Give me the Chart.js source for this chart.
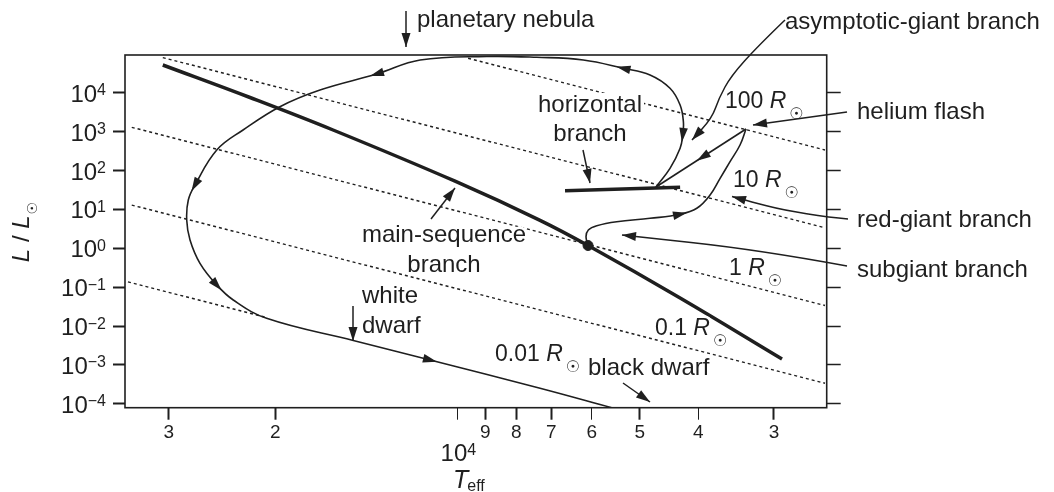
<!DOCTYPE html>
<html>
<head>
<meta charset="utf-8">
<script src="https://cdn.jsdelivr.net/npm/chart.js@4.4.1/dist/chart.umd.min.js"></script>
<style>
  html, body { margin: 0; padding: 0; background: #fff; }
  #wrap { width: 1054px; height: 492px; position: relative; }
</style>
</head>
<body>
<div id="wrap"><canvas id="hr"></canvas></div>
<script>
// axis ticks
const xTicks = [30000, 20000, 10000, 9000, 8000, 7000, 6000, 5000, 4000, 3000];
const xTickLabels = ['3', '2', '', '9', '8', '7', '6', '5', '4', '3'];
const yTicks = [1e-4, 1e-3, 1e-2, 1e-1, 1, 1e1, 1e2, 1e3, 1e4];
const yExp = [-4, -3, -2, -1, 0, 1, 2, 3, 4];

// main sequence (Teff, L/Lsun)
const msT = [30700, 22030, 16060, 10095, 7305, 6086, 4287, 2909];
const msL = [51900, 7570, 1104, 53.2, 5.25, 1.18, 0.0527, 0.00142];

// the sun
const sunT = [6086];
const sunL = [1.18];

// subgiant + red-giant branch up to the helium flash
const rgbT = [6086, 6133, 6079, 5887, 5457, 4807, 4287, 4023, 3825, 3682, 3545, 3413, 3336];
const rgbL = [1.18, 1.99, 2.96, 3.81, 4.83, 5.91, 7.50, 10.7, 23.5, 63.2, 169, 454, 1172];

// helium flash -> horizontal branch
const flashT = [3336, 4700];
const flashL = [1172, 37.7];

// horizontal branch
const hbT = [6643, 4287];
const hbL = [30.3, 37.1];

// asymptotic giant branch -> planetary nebula -> white dwarf -> black dwarf
const agbT = [4700, 4455, 4287, 4244, 4234, 4287, 4455, 4807, 5321, 6196, 7398, 8947, 11530, 13600, 16880,
  19660, 22620, 25000, 27160, 27860, 28030, 27680, 26650, 25000, 23480, 20680, 14870, 11100, 7305, 5561];
const agbL = [37.7, 114, 373, 821, 1806, 4856, 13060, 28700, 42700, 69800, 81900, 85900, 69800, 30470, 11800,
  4390, 1104, 338, 42.5, 17.5, 5.35, 1.635, 0.411, 0.1138, 0.0468, 0.0158, 0.00425, 0.00134, 2.52e-4, 7.94e-5];

// constant radius lines (end points)
const radiusNames = ['100', '10', '1', '0.1', '0.01'];
const radiusT0 = [9607, 30700, 34550, 34550, 35050];
const radiusL0 = [77400, 80500, 1295, 12.95, 0.137];
const radiusT1 = [2470, 2470, 2470, 2470, 20680];
const radiusL1 = [338, 3.38, 0.0338, 3.38e-4, 0.0166];

const ink = '#1f1f1f';
const sans = '"Liberation Sans", Arial, sans-serif';
const sym = '"DejaVu Sans", sans-serif';

function pts(tt, ll) { return tt.map((t, i) => ({ x: t, y: ll[i] })); }

const tracks = { rgb: [rgbT, rgbL], flash: [flashT, flashL], agb: [agbT, agbL] };
const trackArrows = [
  { set: 'rgb', i: 6, j: 7 },
  { set: 'flash', i: 0, j: 1, f: 0.48 },
  { set: 'agb', i: 3, j: 2 },
  { set: 'agb', i: 8, j: 9 },
  { set: 'agb', i: 13, j: 14 },
  { set: 'agb', i: 18, j: 19 },
  { set: 'agb', i: 23, j: 24 },
  { set: 'agb', i: 27, j: 28 }
];

function arrowHead(ctx, x, y, ang, len, hw) {
  const c = Math.cos(ang), s = Math.sin(ang);
  ctx.beginPath();
  ctx.moveTo(x, y);
  ctx.lineTo(x - len * c + hw * s, y - len * s - hw * c);
  ctx.lineTo(x - len * c - hw * s, y - len * s + hw * c);
  ctx.closePath();
  ctx.fill();
}

// smooth pointer line ending in an arrow head
function pointer(ctx, p) {
  ctx.beginPath();
  ctx.moveTo(p[0][0], p[0][1]);
  for (let i = 1; i < p.length - 1; i++) {
    const mx = (p[i][0] + p[i + 1][0]) / 2, my = (p[i][1] + p[i + 1][1]) / 2;
    ctx.quadraticCurveTo(p[i][0], p[i][1], mx, my);
  }
  const n = p.length;
  ctx.lineTo(p[n - 1][0], p[n - 1][1]);
  ctx.stroke();
  const ang = Math.atan2(p[n - 1][1] - p[n - 2][1], p[n - 1][0] - p[n - 2][0]);
  arrowHead(ctx, p[n - 1][0], p[n - 1][1], ang, 14, 4.5);
}

// text made of pieces: [text, font, dy, gapAfter]
function pieces(ctx, x, y, list, align, halo) {
  let w = 0;
  list.forEach(pc => { ctx.font = pc[1]; w += ctx.measureText(pc[0]).width + (pc[3] || 0); });
  let sx = align === 'center' ? x - w / 2 : align === 'right' ? x - w : x;
  ctx.textAlign = 'left';
  ctx.textBaseline = 'alphabetic';
  [halo ? 'stroke' : null, 'fill'].forEach(mode => {
    if (!mode) return;
    let cx = sx;
    list.forEach(pc => {
      ctx.font = pc[1];
      if (mode === 'stroke') {
        ctx.strokeStyle = '#fff'; ctx.lineWidth = 5; ctx.lineJoin = 'round';
        ctx.strokeText(pc[0], cx, y + (pc[2] || 0));
      } else {
        ctx.fillText(pc[0], cx, y + (pc[2] || 0));
      }
      cx += ctx.measureText(pc[0]).width + (pc[3] || 0);
    });
  });
}

function word(ctx, t, x, y, align, halo) {
  pieces(ctx, x, y, [[t, '24px ' + sans]], align, halo);
}

function rLabel(ctx, num, x, y) {
  pieces(ctx, x, y, [[num + ' ', '23px ' + sans], ['R', 'italic 23px ' + sans, 0, 3], ['\u2609', '16px ' + sym, 11]], 'left', true);
}

const hrPlugin = {
  id: 'hrPlugin',
  beforeDatasetsDraw(chart) {
    const { ctx, chartArea: a } = chart;
    ctx.save();
    ctx.strokeStyle = ink;
    ctx.lineWidth = 1.6;
    ctx.strokeRect(a.left, a.top, a.right - a.left, a.bottom - a.top);
    ctx.restore();
  },
  afterDatasetsDraw(chart) {
    const ctx = chart.ctx, xs = chart.scales.x, ys = chart.scales.y;
    ctx.save();
    ctx.fillStyle = ink;
    trackArrows.forEach(m => {
      const tt = tracks[m.set][0], ll = tracks[m.set][1];
      const P = k => [xs.getPixelForValue(tt[k]), ys.getPixelForValue(ll[k])];
      let c, ang;
      if (m.f !== undefined) {
        const p0 = P(m.i), p1 = P(m.j);
        c = [p0[0] + (p1[0] - p0[0]) * m.f, p0[1] + (p1[1] - p0[1]) * m.f];
        ang = Math.atan2(p1[1] - p0[1], p1[0] - p0[0]);
      } else {
        c = P(m.i);
        const k = 2 * m.i - m.j;
        const pb = (k >= 0 && k < tt.length) ? P(k) : c;
        const pf = P(m.j);
        ang = Math.atan2(pf[1] - pb[1], pf[0] - pb[0]);
      }
      arrowHead(ctx, c[0] + 7 * Math.cos(ang), c[1] + 7 * Math.sin(ang), ang, 14, 4.3);
    });
    ctx.restore();
  },
  afterDraw(chart) {
    const ctx = chart.ctx, xs = chart.scales.x, ys = chart.scales.y;
    ctx.save();
    ctx.fillStyle = ink;

    // y tick labels 10^n
    yTicks.forEach((v, i) => {
      const y = ys.getPixelForValue(v);
      const e = yExp[i] < 0 ? '\u2212' + (-yExp[i]) : String(yExp[i]);
      pieces(ctx, 106, y + 9, [['10', '24px ' + sans], [e, '16px ' + sans, -6.5]], 'right', false);
    });

    // x tick labels
    ctx.font = '19px ' + sans;
    ctx.textAlign = 'center';
    xTicks.forEach((v, i) => {
      if (!xTickLabels[i]) return;
      ctx.fillText(xTickLabels[i], xs.getPixelForValue(v), 438);
    });
    const x4 = xs.getPixelForValue(10000);
    pieces(ctx, x4 - 17, 461, [['10', '24px ' + sans], ['4', '16px ' + sans, -6.5]], 'left', false);
    pieces(ctx, 453, 488, [['T', 'italic 25px ' + sans, 0, -1], ['eff', '16px ' + sans, 3]], 'left', false);

    // y axis title
    ctx.save();
    ctx.translate(28.5, 232);
    ctx.rotate(-Math.PI / 2);
    ctx.fillStyle = ink;
    pieces(ctx, 0, 0, [['L', 'italic 24px ' + sans], [' / ', '24px ' + sans], ['L', 'italic 24px ' + sans, 0, 1], ['\u2609', '14px ' + sym, 8]], 'center', false);
    ctx.restore();

    // knocked-out box behind "horizontal"
    ctx.fillStyle = '#fff';
    ctx.fillRect(535, 93, 109, 22);
    ctx.fillStyle = ink;

    word(ctx, 'planetary nebula', 417, 27, 'left', false);
    word(ctx, 'asymptotic-giant branch', 785, 29, 'left', false);
    word(ctx, 'horizontal', 590, 112, 'center', false);
    word(ctx, 'branch', 590, 141, 'center', true);
    word(ctx, 'helium flash', 857, 119, 'left', false);
    word(ctx, 'red-giant branch', 857, 227, 'left', false);
    word(ctx, 'subgiant branch', 857, 277, 'left', false);
    word(ctx, 'main-sequence', 444, 242, 'center', true);
    word(ctx, 'branch', 444, 272, 'center', true);
    word(ctx, 'white', 362, 303, 'left', true);
    word(ctx, 'dwarf', 362, 333, 'left', true);
    word(ctx, 'black dwarf', 588, 375, 'left', true);

    rLabel(ctx, '100', 725, 108);
    rLabel(ctx, '10', 733, 187);
    rLabel(ctx, '1', 729, 275);
    rLabel(ctx, '0.1', 655, 335);
    rLabel(ctx, '0.01', 495, 361);

    // pointers
    ctx.strokeStyle = ink;
    ctx.fillStyle = ink;
    ctx.lineWidth = 1.5;
    pointer(ctx, [[406, 11], [406, 47]]);
    pointer(ctx, [[785, 20], [758, 46], [731, 76], [719, 98], [712, 118], [692, 140]]);
    pointer(ctx, [[583, 150], [590, 183]]);
    pointer(ctx, [[847, 112], [753, 125]]);
    pointer(ctx, [[848, 219], [830, 217.5], [783, 210], [750, 201.5], [732, 196.5]]);
    pointer(ctx, [[847, 266], [760, 250], [622, 235]]);
    pointer(ctx, [[431, 219], [455, 188]]);
    pointer(ctx, [[353, 306], [353, 341]]);
    pointer(ctx, [[623, 383], [650, 402]]);
    ctx.restore();
  }
};

const datasets = [];
radiusNames.forEach((r, i) => {
  datasets.push({
    label: r + ' Rsun',
    data: [{ x: radiusT0[i], y: radiusL0[i] }, { x: radiusT1[i], y: radiusL1[i] }],
    showLine: true, borderColor: ink, borderWidth: 1.4, borderDash: [3, 3],
    pointRadius: 0, order: 5
  });
});
datasets.push({ label: 'main sequence', data: pts(msT, msL), showLine: true, borderColor: ink, borderWidth: 3.5, tension: 0.4, pointRadius: 0, order: 2 });
datasets.push({ label: 'horizontal branch', data: pts(hbT, hbL), showLine: true, borderColor: ink, borderWidth: 3.5, pointRadius: 0, order: 2 });
datasets.push({ label: 'red giant', data: pts(rgbT, rgbL), showLine: true, borderColor: ink, borderWidth: 1.6, tension: 0.4, pointRadius: 0, order: 3 });
datasets.push({ label: 'flash', data: pts(flashT, flashL), showLine: true, borderColor: ink, borderWidth: 1.6, pointRadius: 0, order: 3 });
datasets.push({ label: 'agb', data: pts(agbT, agbL), showLine: true, borderColor: ink, borderWidth: 1.6, tension: 0.4, pointRadius: 0, order: 3 });
datasets.push({ label: 'sun', data: pts(sunT, sunL), showLine: false, pointRadius: 5, backgroundColor: ink, borderColor: ink, order: 1 });

const thinX = [10000, 6000, 4000];
const yLimits = { min: 7.94e-5, max: 93800 };

new Chart(document.getElementById('hr'), {
  type: 'scatter',
  data: { datasets },
  options: {
    responsive: true,
    maintainAspectRatio: false,
    animation: false,
    layout: { padding: { top: 55, left: 0, right: 0, bottom: 0 } },
    plugins: { legend: { display: false }, tooltip: { enabled: false } },
    scales: {
      x: {
        type: 'logarithmic', reverse: true, min: 2454, max: 35450, position: 'bottom',
        afterBuildTicks: s => { s.ticks = xTicks.map(v => ({ value: v })); },
        afterFit: s => { s.height = 84.3; },
        ticks: { display: false },
        border: { display: false },
        grid: {
          drawOnChartArea: false, drawTicks: true, tickLength: 12, tickColor: ink,
          tickWidth: c => (c.tick && thinX.includes(c.tick.value)) ? 1 : 2
        }
      },
      y: {
        type: 'logarithmic', min: yLimits.min, max: yLimits.max, position: 'left',
        afterBuildTicks: s => { s.ticks = yTicks.map(v => ({ value: v })); },
        afterFit: s => { s.width = 125; },
        ticks: { display: false },
        border: { display: false },
        grid: { drawOnChartArea: false, drawTicks: true, tickLength: 12, tickWidth: 2, tickColor: ink }
      },
      y2: {
        type: 'logarithmic', min: yLimits.min, max: yLimits.max, position: 'right',
        afterBuildTicks: s => { s.ticks = yTicks.map(v => ({ value: v })); },
        afterFit: s => { s.width = 227.3; },
        ticks: { display: false },
        border: { display: false },
        grid: { drawOnChartArea: false, drawTicks: true, tickLength: 14, tickWidth: 1.5, tickColor: ink }
      }
    }
  },
  plugins: [hrPlugin]
});
</script>
</body>
</html>
